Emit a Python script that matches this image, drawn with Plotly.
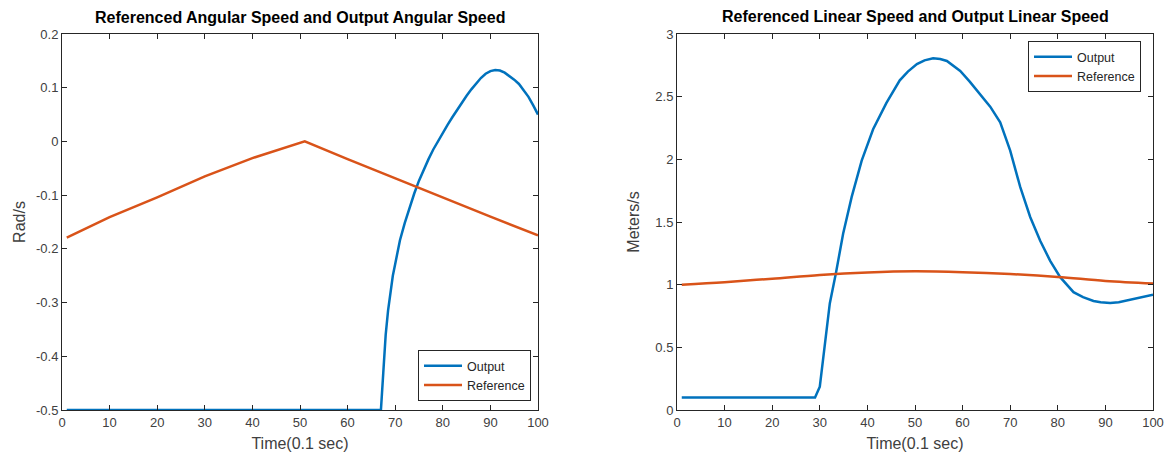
import plotly.graph_objects as go

# ---- Left panel: angular speed ----
ang_out_x = [1, 67, 67.5, 68, 68.5, 69, 69.5, 70, 71, 72, 73, 74, 75, 76, 77, 78, 79, 80, 81, 82, 83, 84, 85, 86, 87,
             88, 89, 90, 91, 92, 93, 94, 95, 96, 97, 98, 99, 100]
ang_out_y = [-0.5, -0.5, -0.43, -0.36, -0.315, -0.28, -0.25, -0.228, -0.184, -0.152, -0.123, -0.097, -0.073, -0.052,
             -0.033, -0.015, 0.001, 0.017, 0.031, 0.045, 0.059, 0.072, 0.085, 0.097, 0.108, 0.118, 0.126, 0.131,
             0.133, 0.132, 0.128, 0.122, 0.115, 0.107, 0.096, 0.083, 0.067, 0.05]
ang_ref_x = [1, 10, 20, 30, 40, 51, 60, 70, 80, 90, 100]
ang_ref_y = [-0.179, -0.141, -0.104, -0.065, -0.031, 0.0, -0.033, -0.069, -0.104, -0.14, -0.175]

# ---- Right panel: linear speed ----
lin_out_x = [1, 29.0, 30.0, 31.1, 32.1, 33.4, 34.9, 36.7, 38.8, 41.2, 44.0, 46.8, 48.5, 50.4, 52.0, 53.8, 55.3, 56.7,
             59.5, 61.5, 63.7, 65.8, 67.9, 70.0, 72.1, 74.2, 76.3, 78.4, 80.5, 82.0, 83.3, 85.3, 87.5, 89.0, 91.0,
             92.8, 94.5, 97.0, 100]
lin_out_y = [0.1, 0.1, 0.186, 0.557, 0.85, 1.095, 1.406, 1.70, 1.99, 2.24, 2.45, 2.63, 2.70, 2.76, 2.79, 2.806, 2.80,
             2.785, 2.705, 2.62, 2.52, 2.42, 2.295, 2.07, 1.78, 1.54, 1.35, 1.19, 1.06, 0.995, 0.94, 0.90, 0.87, 0.86,
             0.854, 0.86, 0.875, 0.895, 0.92]
lin_ref_x = [1, 10, 20, 30, 40, 50, 60, 70, 80, 90, 100]
lin_ref_y = [1.0, 1.02, 1.048, 1.078, 1.098, 1.107, 1.1, 1.085, 1.062, 1.03, 1.01]

x_ticks = [0, 10, 20, 30, 40, 50, 60, 70, 80, 90, 100]
ang_ticks = [0.2, 0.1, 0, -0.1, -0.2, -0.3, -0.4, -0.5]
ang_tick_text = ["0.2", "0.1", "0", "-0.1", "-0.2", "-0.3", "-0.4", "-0.5"]
lin_ticks = [0, 0.5, 1, 1.5, 2, 2.5, 3]
lin_tick_text = ["0", "0.5", "1", "1.5", "2", "2.5", "3"]

BLUE = "#0072BD"
ORANGE = "#D95319"
AX = "#262626"
TXT = "#404040"
FONT = "Liberation Sans, Arial, sans-serif"

# page is rendered with an 8px body margin; work in page pixels and convert
OFF = 8
W, H = 1172 - 2 * OFF, 460 - 2 * OFF
PLOT_L, PLOT_R, PLOT_T, PLOT_B = 62, 1153, 34, 410  # page pixels
ML = PLOT_L - OFF
MT = PLOT_T - OFF
MR = W - (PLOT_R - OFF)
MB = H - (PLOT_B - OFF)
PW = W - ML - MR
PH = H - MT - MB


def px(xp):
    return (xp - PLOT_L) / PW


def py(yp):
    return (PLOT_B - yp) / PH


fig = go.Figure()
fig.add_trace(go.Scatter(x=ang_out_x, y=ang_out_y, mode="lines", name="Output",
                         line=dict(color=BLUE, width=2.5), xaxis="x", yaxis="y", legend="legend"))
fig.add_trace(go.Scatter(x=ang_ref_x, y=ang_ref_y, mode="lines", name="Reference",
                         line=dict(color=ORANGE, width=2.5), xaxis="x", yaxis="y", legend="legend"))
fig.add_trace(go.Scatter(x=lin_out_x, y=lin_out_y, mode="lines", name="Output",
                         line=dict(color=BLUE, width=2.5), xaxis="x2", yaxis="y2", legend="legend2"))
fig.add_trace(go.Scatter(x=lin_ref_x, y=lin_ref_y, mode="lines", name="Reference", line_shape="spline",
                         line=dict(color=ORANGE, width=2.5), xaxis="x2", yaxis="y2", legend="legend2"))

axis_common = dict(showline=True, linecolor=AX, linewidth=1, mirror="allticks", ticks="inside", ticklen=5,
                   tickcolor=AX, showgrid=False, zeroline=False, automargin=False,
                   tickfont=dict(size=13, color=TXT, family=FONT),
                   title_font=dict(size=16, color=TXT, family=FONT))

fig.update_layout(
    width=W, height=H,
    margin=dict(l=ML, r=MR, t=MT, b=MB),
    paper_bgcolor="white", plot_bgcolor="white",
    font=dict(family=FONT, color=AX),
    xaxis=dict(domain=[px(62), px(538)], range=[0, 100], tickvals=x_ticks,
               title=dict(text="Time(0.1 sec)", standoff=9), anchor="y", **axis_common),
    yaxis=dict(domain=[0, 1], range=[-0.5, 0.2], tickvals=ang_ticks, ticktext=ang_tick_text,
               title=dict(text="Rad/s", standoff=6), anchor="x", **axis_common),
    xaxis2=dict(domain=[px(677), px(1153)], range=[0, 100], tickvals=x_ticks,
                title=dict(text="Time(0.1 sec)", standoff=9), anchor="y2", **axis_common),
    yaxis2=dict(domain=[0, 1], range=[0, 3], tickvals=lin_ticks, ticktext=lin_tick_text,
                title=dict(text="Meters/s", standoff=11), anchor="x2", **axis_common),
    legend=dict(x=px(531), xanchor="right", y=py(401), yanchor="bottom", xref="paper", yref="paper",
                bordercolor=AX, borderwidth=1, bgcolor="white", font=dict(size=12.5, color=AX),
                tracegroupgap=0, itemwidth=38),
    legend2=dict(x=px(1141), xanchor="right", y=py(41), yanchor="top", xref="paper", yref="paper",
                 bordercolor=AX, borderwidth=1, bgcolor="white", font=dict(size=12.5, color=AX),
                 tracegroupgap=0, itemwidth=38),
    annotations=[
        dict(text="<b>Referenced Angular Speed and Output Angular Speed</b>", x=px(300), y=py(18), xref="paper",
             yref="paper", showarrow=False, font=dict(size=16, color="black", family=FONT),
             xanchor="center", yanchor="middle"),
        dict(text="<b>Referenced Linear Speed and Output Linear Speed</b>", x=px(915), y=py(17), xref="paper",
             yref="paper", showarrow=False, font=dict(size=16, color="black", family=FONT),
             xanchor="center", yanchor="middle"),
    ],
)

fig.write_html("out.html")
